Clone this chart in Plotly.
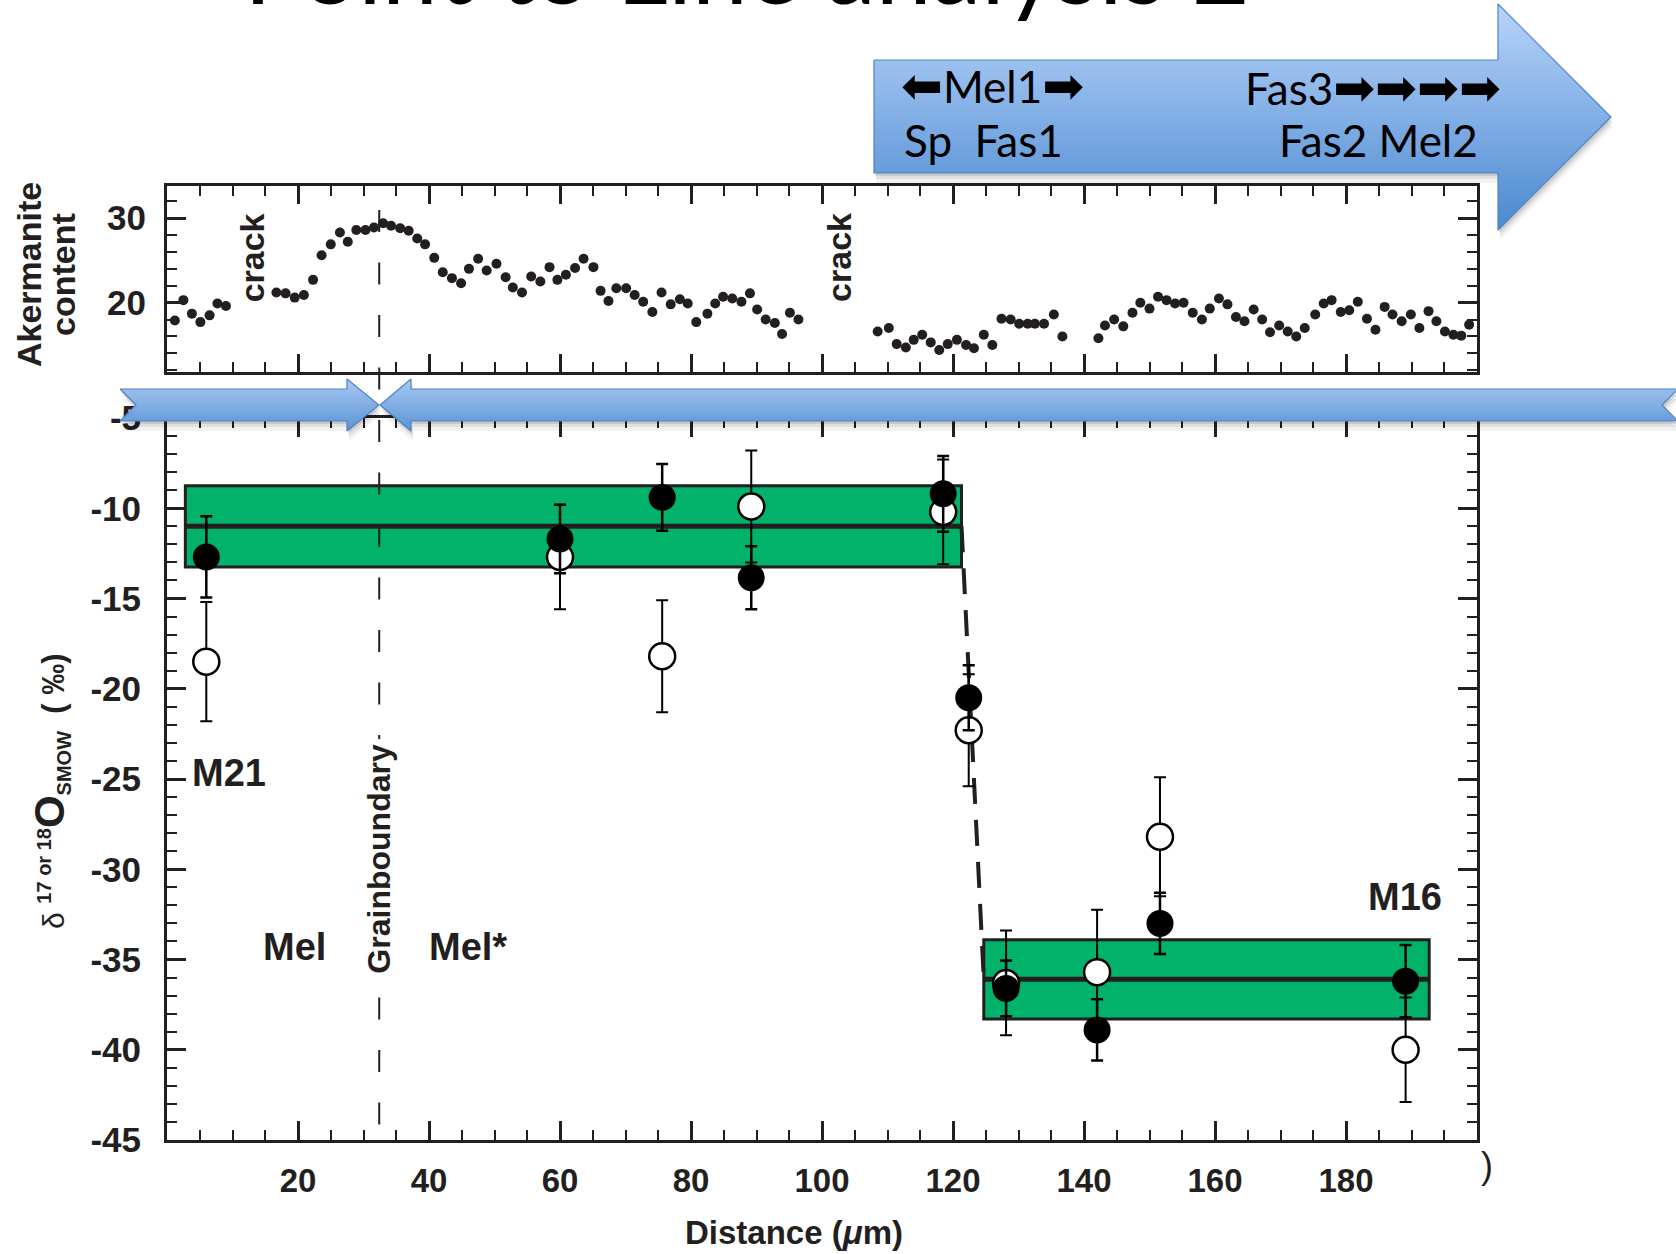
import plotly.graph_objects as go

W, H = 1676, 1254
INK = "#231f20"
SANS = "Liberation Sans, Arial, Helvetica, sans-serif"
LABEL_FONT = "Lato, DejaVu Sans, sans-serif"

# ---------------- data ----------------
# Akermanite content along the traverse (upper panel)
ak_x = [1.2, 2.5, 3.8, 5.1, 6.5, 7.7, 9.0,
        16.7, 18.1, 19.5, 20.9, 22.3, 23.6, 25.0, 26.4, 27.6, 28.9, 30.3, 31.6, 33.0,
        34.2, 35.6, 36.9, 38.2, 39.4, 40.8, 42.1, 43.5, 44.9, 46.1, 47.5, 48.8, 50.3,
        51.7, 52.8, 54.2, 55.6, 57.0, 58.4, 59.6, 60.9, 62.3, 63.6, 65.1, 66.2, 67.4,
        68.6, 70.1, 71.4, 72.7, 74.1, 75.5, 76.9, 78.3, 79.5, 80.8, 82.5, 83.7, 84.9,
        86.3, 87.7, 89.0, 90.1, 91.4, 92.8, 93.9, 95.1, 96.4,
        108.5, 110.2, 111.4, 112.8, 114.0, 115.3, 116.6, 117.9, 119.2, 120.6, 122.0,
        123.2, 124.7, 126.0, 127.4, 128.8, 130.1, 131.4, 132.5, 133.9, 135.4, 136.7,
        142.2, 143.2, 144.6, 146.0, 147.4, 148.6, 150.0, 151.3, 152.6, 153.9, 155.2,
        156.6, 158.0, 159.2, 160.6, 161.9, 163.2, 164.5, 165.9, 167.2, 168.4, 169.8,
        171.1, 172.4, 173.7, 175.3, 176.6, 177.8, 179.2, 180.5, 181.8, 183.2, 184.5,
        185.9, 187.1, 188.5, 189.9, 191.2, 192.6, 193.8, 195.1, 196.4, 197.6, 198.8]
ak_val = [17.9, 20.3, 18.7, 17.7, 18.5, 19.9, 19.6,
          21.2, 21.1, 20.6, 20.9, 22.7, 25.6, 26.9, 28.3, 27.2, 28.6, 28.6, 28.9, 29.4,
          29.1, 28.8, 28.5, 27.6, 26.9, 25.3, 23.6, 22.9, 22.3, 24.0, 25.2, 23.8, 24.6,
          23.0, 21.8, 21.2, 23.1, 22.5, 24.2, 22.7, 23.3, 24.1, 25.2, 24.2, 21.4, 20.2,
          21.7, 21.7, 20.9, 20.1, 18.9, 21.2, 19.8, 20.4, 19.9, 17.7, 18.7, 19.9, 20.7,
          20.5, 20.1, 21.1, 19.2, 18.0, 17.6, 16.3, 18.8, 18.0,
          16.6, 17.0, 15.1, 14.7, 15.6, 16.2, 15.3, 14.4, 15.1, 15.6, 15.0,
          14.6, 16.2, 15.0, 18.1, 18.0, 17.5, 17.5, 17.5, 17.5, 18.6, 16.0,
          15.8, 17.3, 18.0, 17.2, 18.8, 20.0, 19.3, 20.7, 20.3, 19.9, 20.0,
          18.8, 18.0, 19.3, 20.5, 19.8, 18.3, 17.8, 19.2, 18.0, 16.5, 17.3,
          16.6, 16.0, 17.0, 18.6, 19.9, 20.3, 18.9, 19.1, 20.1, 18.1, 16.8,
          19.5, 18.6, 17.8, 18.6, 17.0, 19.0, 17.8, 16.6, 16.2, 16.1, 17.4]

# Oxygen isotope spots (lower panel): filled and open symbols with 2-sigma errors
spot_x = [6.0, 60.0, 75.6, 89.2, 118.5, 122.4, 128.1, 142.0, 151.6, 189.1]
d_filled = [-12.7, -11.7, -9.4, -13.85, -9.2, -20.5, -36.6, -38.9, -33.0, -36.2]
d_filled_err = [2.25, 1.9, 1.85, 1.75, 2.1, 1.8, 1.55, 1.7, 1.7, 2.0]
d_open = [-18.5, -12.7, -18.2, -9.9, -10.2, -22.3, -36.3, -35.7, -28.2, -40.0]
d_open_err = [3.3, 2.9, 3.1, 3.1, 2.9, 3.1, 2.9, 3.45, 3.3, 2.9]

# Averaged groups (M21 and M16): extent along the traverse, mean and spread
group_x0 = [2.8, 124.7]
group_x1 = [121.3, 192.7]
group_mean = [-11.0, -36.1]
group_sd = [2.25, 2.2]

grain_boundary_x = 32.4

x_ticks = [20, 40, 60, 80, 100, 120, 140, 160, 180]
y_ticks = [-45, -40, -35, -30, -25, -20, -15, -10, -5]
ak_ticks = [20, 30]

# ---------------- geometry helpers ----------------
PLOT_L, PLOT_R = 167, 1477
LOW_T, LOW_B = 418, 1140
UP_T, UP_B = 186, 372
X_RANGE = [0, 200]


def fx(px):
    return px / W


def fy(py):
    return 1 - py / H


def data_to_px_x(v):
    return PLOT_L + (v - X_RANGE[0]) / (X_RANGE[1] - X_RANGE[0]) * (PLOT_R - PLOT_L)


fig = go.Figure()

# upper panel: akermanite profile
fig.add_trace(go.Scatter(
    x=ak_x, y=ak_val, mode="markers", xaxis="x2", yaxis="y2",
    marker=dict(size=10, color=INK), cliponaxis=False, hoverinfo="skip"))

# lower panel: open symbols first, filled symbols on top
fig.add_trace(go.Scatter(
    x=spot_x, y=d_open, mode="markers", xaxis="x", yaxis="y",
    error_y=dict(type="data", array=d_open_err, color="black", thickness=2, width=6),
    marker=dict(size=26, color="white", line=dict(color="black", width=2.5)),
    cliponaxis=False, hoverinfo="skip"))
fig.add_trace(go.Scatter(
    x=spot_x, y=d_filled, mode="markers", xaxis="x", yaxis="y",
    error_y=dict(type="data", array=d_filled_err, color="black", thickness=2.5, width=6),
    marker=dict(size=27, color="black"),
    cliponaxis=False, hoverinfo="skip"))

# ---------------- pixel overlay: grain boundary and block arrows ----------------
gb_px = data_to_px_x(grain_boundary_x)
fig.add_trace(go.Scatter(
    x=[gb_px, gb_px], y=[210, 1125], mode="lines", xaxis="x3", yaxis="y3",
    line=dict(color=INK, width=2, dash="22px,30.5px"), hoverinfo="skip"))

big_arrow = [(874, 60), (1498, 60), (1498, 4), (1611, 117), (1498, 230),
             (1498, 173), (874, 173), (874, 60)]
band_left = [(120, 389), (347, 389), (347, 379), (379, 405), (347, 431),
             (347, 421), (120, 421), (136, 405), (120, 389)]
band_right = [(1678, 389), (411, 389), (411, 379), (380, 405), (411, 431),
              (411, 421), (1678, 421), (1662, 405), (1678, 389)]


def add_shadow(poly, dx, dy, alpha):
    fig.add_trace(go.Scatter(
        x=[p[0] + dx for p in poly], y=[p[1] + dy for p in poly],
        mode="lines", fill="toself", fillcolor=f"rgba(0,0,0,{alpha})",
        line=dict(width=0, color="rgba(0,0,0,0)"),
        xaxis="x3", yaxis="y3", hoverinfo="skip"))


def add_arrow(poly, top, bottom, light, dark):
    fig.add_trace(go.Scatter(
        x=[p[0] for p in poly], y=[p[1] for p in poly],
        mode="lines", fill="toself",
        fillgradient=dict(type="vertical", start=top, stop=bottom,
                          colorscale=[[0, light], [1, dark]]),
        line=dict(color="#4f83c4", width=1.2),
        xaxis="x3", yaxis="y3", hoverinfo="skip"))


for poly in (big_arrow, band_left, band_right):
    add_shadow(poly, 2, 10, 0.05)
    add_shadow(poly, 2, 6, 0.07)
    add_shadow(poly, 1, 3, 0.10)

add_arrow(big_arrow, 4, 230, "#b8d4fa", "#4b89d0")
add_arrow(band_left, 379, 431, "#a9c9f4", "#5a93d4")
add_arrow(band_right, 379, 431, "#a9c9f4", "#5a93d4")

# ---------------- shapes in the lower panel ----------------
shapes = []
for x0, x1, m, sd in zip(group_x0, group_x1, group_mean, group_sd):
    shapes.append(dict(type="rect", xref="x", yref="y", x0=x0, x1=x1,
                       y0=m - sd, y1=m + sd, fillcolor="#00b26a",
                       line=dict(color=INK, width=3), layer="below"))
    shapes.append(dict(type="line", xref="x", yref="y", x0=x0, x1=x1,
                       y0=m, y1=m, line=dict(color=INK, width=5), layer="below"))
shapes.append(dict(type="line", xref="x", yref="y",
                   x0=group_x1[0], y0=group_mean[0], x1=group_x0[1], y1=group_mean[1],
                   line=dict(color=INK, width=4, dash="26px,16px"), layer="below"))

# ---------------- axes ----------------
MINOR = dict(ticks="inside", ticklen=10, tickwidth=2, tickcolor=INK, tickmode="linear", tick0=0)


def axis(**kw):
    base = dict(showline=True, linecolor=INK, linewidth=3, mirror="allticks",
                ticks="inside", ticklen=19, tickwidth=3, tickcolor=INK,
                showgrid=False, zeroline=False, fixedrange=True, automargin=False)
    base.update(kw)
    return base


layout_axes = dict(
    xaxis=axis(domain=[fx(PLOT_L), fx(PLOT_R)], range=X_RANGE, anchor="y",
               tickmode="array", tickvals=x_ticks, ticktext=[str(v) for v in x_ticks],
               tickfont=dict(family=SANS, size=33, color=INK, weight="bold"),
               ticklabelstandoff=9, minor=dict(MINOR, dtick=5)),
    yaxis=axis(domain=[fy(LOW_B), fy(LOW_T)], range=[-45, -5], anchor="x",
               tickmode="array", tickvals=y_ticks, ticktext=[str(v) for v in y_ticks],
               tickfont=dict(family=SANS, size=35, color=INK, weight="bold"),
               ticklabelstandoff=16, minor=dict(MINOR, dtick=1)),
    xaxis2=axis(domain=[fx(PLOT_L), fx(PLOT_R)], range=X_RANGE, anchor="y2",
                tickmode="array", tickvals=x_ticks, showticklabels=False, ticklen=18,
                minor=dict(MINOR, dtick=5)),
    yaxis2=axis(domain=[fy(UP_B), fy(UP_T)], range=[11.8, 33.8], anchor="x2",
                tickmode="array", tickvals=ak_ticks, ticktext=[str(v) for v in ak_ticks],
                tickfont=dict(family=SANS, size=35, color=INK, weight="bold"),
                ticklabelstandoff=11, minor=dict(MINOR, dtick=2)),
    xaxis3=dict(domain=[0, 1], range=[0, W], visible=False, fixedrange=True,
                anchor="y3", automargin=False),
    yaxis3=dict(domain=[0, 1], range=[H, 0], visible=False, fixedrange=True,
                anchor="x3", automargin=False),
)

# ---------------- text ----------------
def bold(size):
    return dict(family=SANS, size=size, color=INK, weight="bold")


def label(text, x, y, font, xref="paper", yref="paper", angle=0, **kw):
    d = dict(text=text, xref=xref, yref=yref, x=x, y=y, textangle=angle,
             xanchor="center", yanchor="middle", showarrow=False, font=font)
    d.update(kw)
    return d


ARW = '<span style="font-family:DejaVu Sans;font-size:50px">{}</span>'
ann = []
ann.append(label("Point to Line analysis 2", fx(747), fy(27),
                 dict(family=LABEL_FONT, size=100, color="black"), yanchor="bottom"))
for txt, px, py in [(ARW.format("⬅") + "Mel1" + ARW.format("➡"), 993, 86),
                    ("Sp  Fas1", 983, 140),
                    ("Fas3" + ARW.format("➡➡➡➡"), 1373, 88),
                    ("Fas2 Mel2", 1378, 140)]:
    ann.append(label(txt, fx(px), fy(py), dict(family=LABEL_FONT, size=44, color="black")))

for cx in (12.9, 102.6):
    ann.append(label("crack", cx, 25.3, bold(34), xref="x2", yref="y2", angle=-90))

ann.append(label("Akermanite", fx(29), fy(275), bold(34), angle=-90))
ann.append(label("content", fx(63), fy(275), bold(34), angle=-90))

ylab = ('<span style="font-weight:normal;font-size:30px">δ</span> '
        '<sup><span style="font-size:20px">17 or 18</span></sup>'
        '<span style="font-size:42px">O</span>'
        '<sub><span style="font-size:20px">SMOW</span></sub>'
        '  ( ‰)')
ann.append(label(ylab, fx(50), fy(791), bold(31), angle=-90))

ann.append(label("Grainboundary", grain_boundary_x, -29.4, bold(32), xref="x", yref="y",
                 angle=-90, bgcolor="white", borderpad=4))
for txt, cx, cy in [("M21", 9.4, -24.65), ("Mel", 19.4, -34.3),
                    ("Mel*", 45.9, -34.3), ("M16", 189.0, -31.55)]:
    ann.append(label(txt, cx, cy, bold(38), xref="x", yref="y"))

ann.append(label("Distance (<i>μ</i>m)", fx(794), fy(1232), bold(33)))
ann.append(label(")", fx(1487), fy(1165), dict(family=SANS, size=36, color=INK)))

fig.update_layout(
    width=W, height=H, autosize=False,
    margin=dict(l=0, r=0, t=0, b=0, autoexpand=False),
    paper_bgcolor="white", plot_bgcolor="rgba(0,0,0,0)",
    showlegend=False, shapes=shapes, annotations=ann,
    **layout_axes,
)

fig.write_html("out.html")
